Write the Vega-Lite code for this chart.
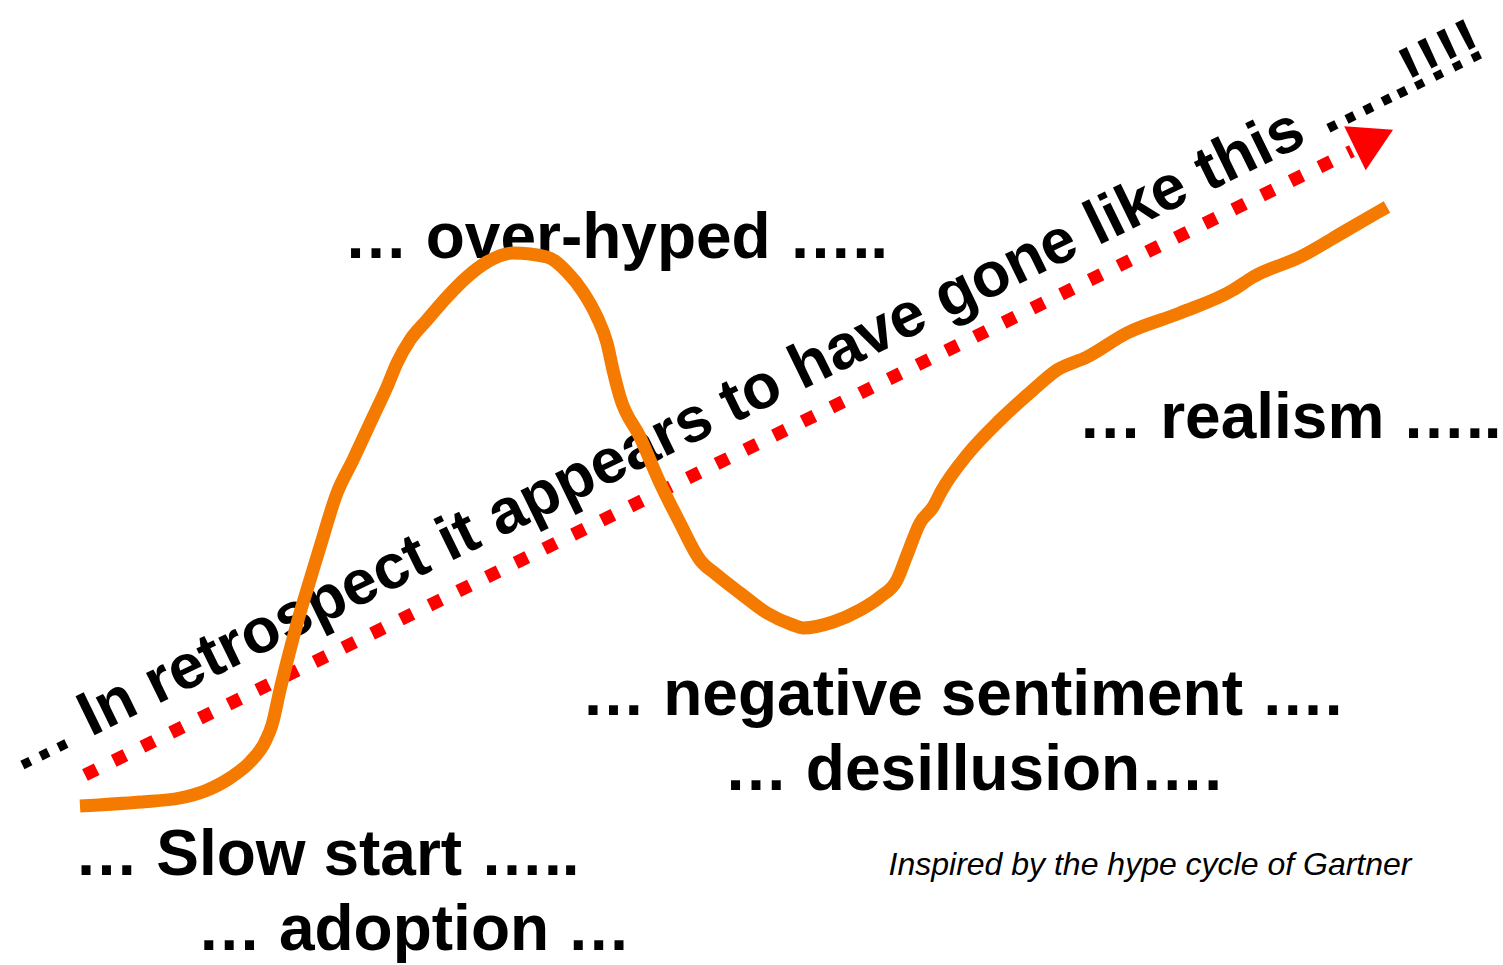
{
  "$schema": "https://vega.github.io/schema/vega-lite/v6.json",
  "width": 1503,
  "height": 965,
  "autosize": {"type": "none"},
  "padding": 0,
  "background": "white",
  "config": {"view": {"stroke": null}},
  "datasets": {
    "curve": [
      {"i": 1, "x": 80, "y": 806}, {"i": 2, "x": 140, "y": 802}, {"i": 3, "x": 180, "y": 798},
      {"i": 4, "x": 205, "y": 791}, {"i": 5, "x": 230, "y": 778}, {"i": 6, "x": 250, "y": 762},
      {"i": 7, "x": 265, "y": 742}, {"i": 8, "x": 272, "y": 725}, {"i": 9, "x": 280, "y": 690},
      {"i": 10, "x": 290, "y": 650}, {"i": 11, "x": 300, "y": 613}, {"i": 12, "x": 310, "y": 580},
      {"i": 13, "x": 320, "y": 547}, {"i": 14, "x": 337, "y": 493}, {"i": 15, "x": 353, "y": 460},
      {"i": 16, "x": 373, "y": 417}, {"i": 17, "x": 387, "y": 387}, {"i": 18, "x": 397, "y": 363},
      {"i": 19, "x": 410, "y": 340}, {"i": 20, "x": 427, "y": 320}, {"i": 21, "x": 447, "y": 297},
      {"i": 22, "x": 467, "y": 277}, {"i": 23, "x": 487, "y": 262}, {"i": 24, "x": 513, "y": 253},
      {"i": 25, "x": 547, "y": 257}, {"i": 26, "x": 567, "y": 272}, {"i": 27, "x": 583, "y": 292},
      {"i": 28, "x": 597, "y": 317}, {"i": 29, "x": 607, "y": 343}, {"i": 30, "x": 613, "y": 370},
      {"i": 31, "x": 620, "y": 397}, {"i": 32, "x": 640, "y": 437}, {"i": 33, "x": 660, "y": 483},
      {"i": 34, "x": 680, "y": 523}, {"i": 35, "x": 700, "y": 560}, {"i": 36, "x": 717, "y": 575},
      {"i": 37, "x": 740, "y": 593}, {"i": 38, "x": 767, "y": 613}, {"i": 39, "x": 793, "y": 625},
      {"i": 40, "x": 803, "y": 628}, {"i": 41, "x": 833, "y": 622}, {"i": 42, "x": 860, "y": 610},
      {"i": 43, "x": 880, "y": 597}, {"i": 44, "x": 897, "y": 580}, {"i": 45, "x": 907, "y": 555},
      {"i": 46, "x": 920, "y": 523}, {"i": 47, "x": 933, "y": 507}, {"i": 48, "x": 942, "y": 490},
      {"i": 49, "x": 967, "y": 455}, {"i": 50, "x": 1000, "y": 420}, {"i": 51, "x": 1033, "y": 390},
      {"i": 52, "x": 1057, "y": 370}, {"i": 53, "x": 1087, "y": 357}, {"i": 54, "x": 1127, "y": 333},
      {"i": 55, "x": 1180, "y": 313}, {"i": 56, "x": 1233, "y": 290}, {"i": 57, "x": 1253, "y": 277},
      {"i": 58, "x": 1300, "y": 257}, {"i": 59, "x": 1347, "y": 230}, {"i": 60, "x": 1387, "y": 207}
    ],
    "arrowline": [
      {"i": 1, "x": 85, "y": 775},
      {"i": 2, "x": 1352, "y": 151}
    ],
    "arrowhead": [
      {"x": 1374, "y": 139}
    ],
    "labels": [
      {"x": 616, "y": 258, "text": "… over-hyped ….."},
      {"x": 1290, "y": 438, "text": "… realism ….."},
      {"x": 962, "y": 715, "text": "… negative sentiment …."},
      {"x": 973, "y": 790, "text": "… desillusion…."},
      {"x": 327, "y": 875, "text": "… Slow start ….."},
      {"x": 414, "y": 950, "text": "… adoption …"}
    ],
    "caption": [
      {"x": 1150, "y": 875, "text": "Inspired by the hype cycle of Gartner"}
    ],
    "slogan": [
      {"x": 753, "y": 414, "text": "… In retrospect it appears to have gone like this …..!!!!"}
    ]
  },
  "encoding": {
    "x": {"field": "x", "type": "quantitative", "scale": {"domain": [0, 1503], "nice": false, "zero": false}, "axis": null},
    "y": {"field": "y", "type": "quantitative", "scale": {"domain": [0, 965], "nice": false, "zero": false, "reverse": true}, "axis": null}
  },
  "layer": [
    {
      "data": {"name": "slogan"},
      "mark": {"type": "text", "font": "Liberation Sans", "fontWeight": "bold", "fontSize": 63, "align": "center", "baseline": "alphabetic", "angle": 334, "color": "black"},
      "encoding": {"text": {"field": "text"}}
    },
    {
      "data": {"name": "labels"},
      "mark": {"type": "text", "font": "Liberation Sans", "fontWeight": "bold", "fontSize": 64, "align": "center", "baseline": "alphabetic", "color": "black"},
      "encoding": {"text": {"field": "text"}}
    },
    {
      "data": {"name": "caption"},
      "mark": {"type": "text", "font": "Liberation Sans", "fontStyle": "italic", "fontSize": 32, "align": "center", "baseline": "alphabetic", "color": "black"},
      "encoding": {"text": {"field": "text"}}
    },
    {
      "data": {"name": "arrowline"},
      "mark": {"type": "line", "color": "#ff0000", "strokeWidth": 13, "strokeDash": [13, 19], "strokeCap": "butt"},
      "encoding": {"order": {"field": "i", "type": "quantitative"}}
    },
    {
      "data": {"name": "arrowhead"},
      "mark": {"type": "point", "shape": "triangle-right", "filled": true, "color": "#ff0000", "opacity": 1, "size": 2400, "angle": 334, "strokeWidth": 0}
    },
    {
      "data": {"name": "curve"},
      "mark": {"type": "line", "color": "#f57a00", "strokeWidth": 13, "strokeJoin": "round", "strokeCap": "butt", "interpolate": "monotone"},
      "encoding": {"order": {"field": "i", "type": "quantitative"}}
    }
  ]
}
